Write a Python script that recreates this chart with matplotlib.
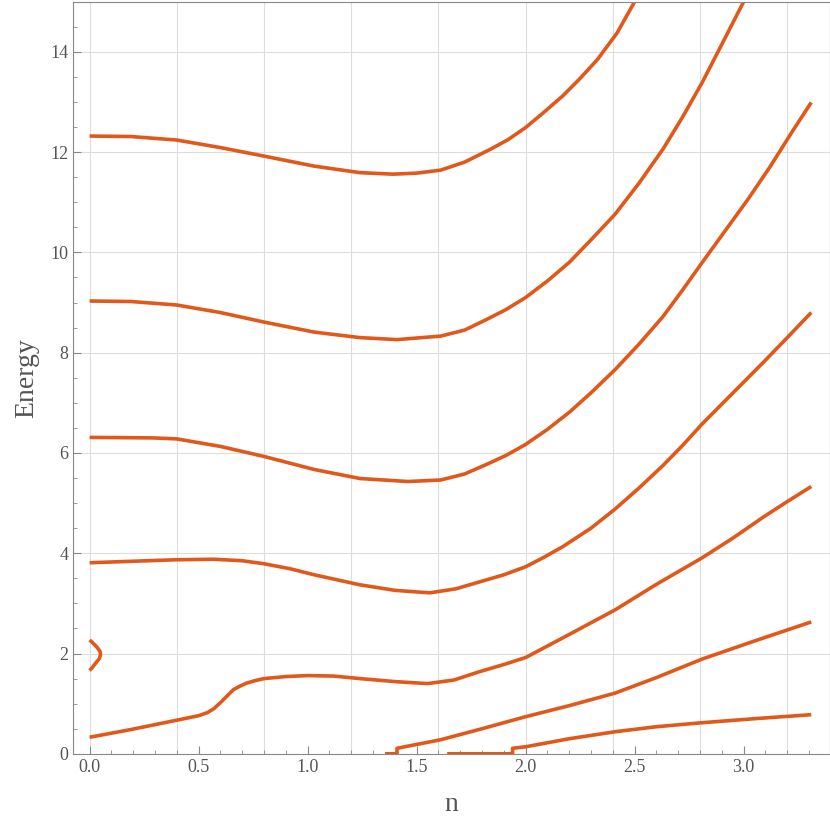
import matplotlib
matplotlib.use("Agg")
import matplotlib.pyplot as plt
from matplotlib.ticker import MultipleLocator, FormatStrFormatter

n1 = [0, 0.19, 0.4, 0.6, 0.8, 1.03, 1.24, 1.39, 1.5, 1.61, 1.72, 1.84, 1.92, 2.0, 2.08, 2.17, 2.25, 2.33, 2.42, 2.5]
e1 = [12.32, 12.31, 12.24, 12.09, 11.92, 11.72, 11.59, 11.56, 11.58, 11.64, 11.80, 12.06, 12.25, 12.49, 12.78, 13.12, 13.47, 13.85, 14.38, 15.0]
n2 = [0, 0.19, 0.4, 0.6, 0.8, 1.03, 1.24, 1.41, 1.61, 1.72, 1.82, 1.91, 2.0, 2.1, 2.2, 2.3, 2.41, 2.52, 2.63, 2.72, 2.81, 2.9, 3.0]
e2 = [9.03, 9.02, 8.95, 8.80, 8.61, 8.41, 8.30, 8.26, 8.33, 8.45, 8.66, 8.86, 9.10, 9.43, 9.80, 10.25, 10.76, 11.38, 12.06, 12.70, 13.39, 14.15, 15.0]
n3 = [0, 0.29, 0.4, 0.6, 0.8, 1.03, 1.24, 1.46, 1.61, 1.72, 1.82, 1.91, 2.0, 2.1, 2.2, 2.3, 2.41, 2.52, 2.63, 2.72, 2.81, 2.91, 3.02, 3.12, 3.22, 3.31]
e3 = [6.31, 6.30, 6.28, 6.13, 5.93, 5.67, 5.49, 5.43, 5.46, 5.58, 5.77, 5.95, 6.17, 6.47, 6.81, 7.20, 7.66, 8.17, 8.72, 9.25, 9.80, 10.40, 11.06, 11.70, 12.39, 12.99]
n4 = [0, 0.2, 0.4, 0.57, 0.7, 0.8, 0.92, 1.03, 1.24, 1.4, 1.56, 1.68, 1.79, 1.9, 2.0, 2.08, 2.17, 2.3, 2.41, 2.52, 2.63, 2.72, 2.81, 2.94, 3.1, 3.2, 3.31]
e4 = [3.81, 3.84, 3.87, 3.88, 3.85, 3.79, 3.69, 3.57, 3.37, 3.26, 3.21, 3.29, 3.43, 3.57, 3.73, 3.91, 4.13, 4.50, 4.88, 5.30, 5.75, 6.15, 6.58, 7.15, 7.85, 8.30, 8.80]
n5 = [0, 0.185, 0.4, 0.5, 0.54, 0.57, 0.6, 0.63, 0.66, 0.69, 0.72, 0.76, 0.8, 0.9, 1.0, 1.12, 1.24, 1.4, 1.55, 1.67, 1.79, 1.9, 2.0, 2.2, 2.41, 2.6, 2.81, 2.95, 3.09, 3.2, 3.31]
e5 = [0.33, 0.48, 0.67, 0.76, 0.82, 0.90, 1.02, 1.15, 1.28, 1.35, 1.41, 1.46, 1.50, 1.54, 1.56, 1.55, 1.50, 1.44, 1.40, 1.47, 1.64, 1.78, 1.92, 2.38, 2.87, 3.38, 3.91, 4.30, 4.72, 5.03, 5.33]
n6 = [1.355, 1.41, 1.41, 1.61, 1.8, 2.0, 2.2, 2.41, 2.6, 2.81, 3.05, 3.31]
e6 = [0.0, 0.0, 0.11, 0.28, 0.50, 0.74, 0.96, 1.21, 1.52, 1.89, 2.25, 2.63]
n7 = [1.64, 1.94, 1.94, 2.0, 2.2, 2.41, 2.6, 2.81, 3.05, 3.31]
e7 = [0.0, 0.0, 0.11, 0.14, 0.30, 0.44, 0.54, 0.62, 0.70, 0.78]
n8 = [0.0, 0.015, 0.035, 0.048, 0.05, 0.045, 0.03, 0.012, 0.0]
e8 = [2.27, 2.21, 2.12, 2.04, 1.98, 1.90, 1.82, 1.72, 1.66]

curves = [(n1, e1), (n2, e2), (n3, e3), (n4, e4), (n5, e5), (n6, e6), (n7, e7), (n8, e8)]
col = "#E0581A"
gray = "#555555"

plt.rcParams["font.family"] = "Liberation Serif"
fig = plt.figure(figsize=(8.3, 8.32), dpi=100)
ax = fig.add_axes([0.088, 0.094, 0.912, 0.904])
for x, y in curves:
    ax.plot(x, y, color=col, lw=2.6, solid_capstyle="butt", solid_joinstyle="round")
ax.set_xlim(-0.076, 3.396)
ax.set_ylim(0, 15)
ax.xaxis.set_major_locator(MultipleLocator(0.5))
ax.xaxis.set_minor_locator(MultipleLocator(0.1))
ax.yaxis.set_major_locator(MultipleLocator(2))
ax.yaxis.set_minor_locator(MultipleLocator(0.5))
ax.xaxis.set_major_formatter(FormatStrFormatter("%.1f"))
for g in [0.0, 0.4, 0.8, 1.2, 1.6, 2.0, 2.4, 2.8, 3.2]:
    ax.axvline(g, color="#dddddd", lw=0.8, zorder=0)
for g in [2, 4, 6, 8, 10, 12, 14]:
    ax.axhline(g, color="#dddddd", lw=0.8, zorder=0)
for s in ax.spines.values():
    s.set_color("#888888")
ax.tick_params(which="both", direction="in", colors="#888888", labelcolor=gray, labelsize=13)
ax.tick_params(which="major", length=6)
ax.tick_params(which="minor", length=3)
ax.set_xlabel("n", fontsize=20, color=gray, labelpad=12)
ax.set_ylabel("Energy", fontsize=20, color=gray, labelpad=8)
fig.savefig("out.png", dpi=100)
